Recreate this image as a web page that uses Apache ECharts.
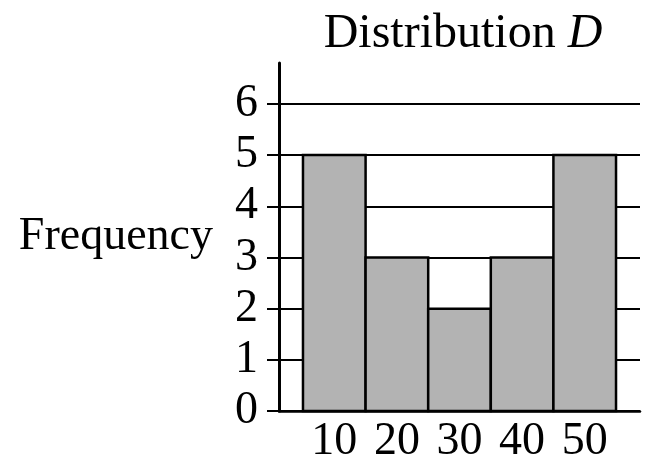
<!DOCTYPE html>
<html>
<head>
<meta charset="utf-8">
<script src="https://cdn.jsdelivr.net/npm/echarts@6/dist/echarts.min.js"></script>
<style>html,body{margin:0;padding:0;background:#fff}#c{width:649px;height:466px}</style>
</head>
<body>
<div id="c"></div>
<script>
const binCenters = [10, 20, 30, 40, 50];
const frequencies = [5, 3, 2, 3, 5];
const binWidth = 10;
const yTicks = [0, 1, 2, 3, 4, 5, 6];
const titleMain = 'Distribution ';
const titleVar = 'D';
const yName = 'Frequency';

const FONT = "'Liberation Serif', 'DejaVu Serif', serif";
const chart = echarts.init(document.getElementById('c'), null, {renderer: 'canvas'});
const data = binCenters.map((c, i) => [c, frequencies[i]]);

chart.setOption({
  animation: false,
  title: {
    text: '{a|' + titleMain + '}{b|' + titleVar + '}',
    left: 458, top: 5, textAlign: 'center',
    textStyle: {
      fontWeight: 'normal',
      rich: {
        a: {fontFamily: FONT, fontSize: 48, fontWeight: 'normal', color: '#000'},
        b: {fontFamily: FONT, fontSize: 48, fontWeight: 'normal', fontStyle: 'italic', color: '#000'}
      }
    }
  },
  grid: {left: 279, right: 9, top: 63, bottom: 55, containLabel: false},
  xAxis: {
    type: 'value', min: 1.17, max: 58.83,
    axisLine: {show: true, lineStyle: {color: '#000', width: 2.5}},
    axisTick: {show: false},
    splitLine: {show: false},
    axisLabel: {customValues: binCenters, fontFamily: FONT, fontSize: 46, color: '#000', margin: 8}
  },
  yAxis: {
    type: 'value', min: 0, max: 6.8,
    name: yName, nameLocation: 'middle', nameRotate: 0, nameGap: 66,
    nameTextStyle: {fontFamily: FONT, fontSize: 46, color: '#000', align: 'right'},
    axisLine: {show: true, lineStyle: {color: '#000', width: 3}},
    axisTick: {show: true, customValues: yTicks, length: 12, lineStyle: {color: '#000', width: 2}},
    axisLabel: {customValues: yTicks, fontFamily: FONT, fontSize: 46, color: '#000', margin: 21},
    splitLine: {show: true, lineStyle: {color: '#000', width: 2}}
  },
  series: [{
    type: 'custom',
    data: data,
    renderItem: function (params, api) {
      const x = api.value(0), y = api.value(1);
      const p0 = api.coord([x - binWidth / 2, y]);
      const p1 = api.coord([x + binWidth / 2, 0]);
      return {
        type: 'rect',
        shape: {x: p0[0], y: p0[1], width: p1[0] - p0[0], height: p1[1] - p0[1]},
        style: {fill: '#b3b3b3', stroke: '#000', lineWidth: 2.5}
      };
    }
  }]
});
</script>
</body>
</html>
